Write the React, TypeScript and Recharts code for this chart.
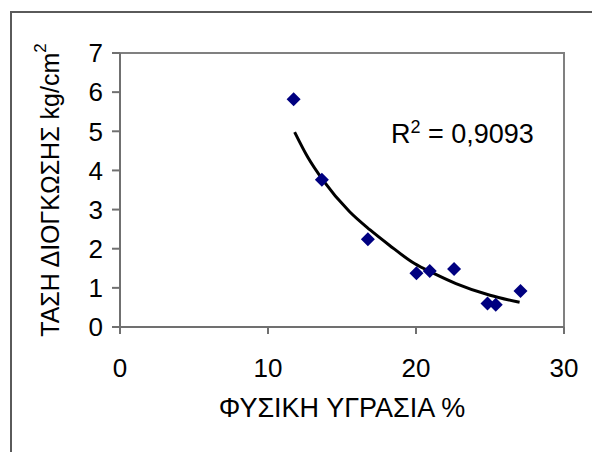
import React from "react";
import {
  ComposedChart,
  Scatter,
  Line,
  XAxis,
  YAxis,
  ReferenceArea,
} from "recharts";

// physical moisture % vs swelling stress kg/cm2
const moisture = [11.73, 13.64, 16.75, 20.03, 20.93, 22.57, 24.83, 25.39, 27.06];
const stress = [5.82, 3.76, 2.24, 1.37, 1.43, 1.48, 0.6, 0.57, 0.92];

// trendline
const trendX = [11.8, 12.7, 13.7, 15.5, 16.9, 18.2, 19.9, 21.2, 22.7, 25.0, 27.0];
const trendY = [4.98, 4.33, 3.76, 2.95, 2.48, 2.09, 1.62, 1.37, 1.11, 0.81, 0.63];

const xTicks = [0, 10, 20, 30];
const yTicks = [0, 1, 2, 3, 4, 5, 6, 7];

const points = moisture.map((x, i) => ({ x, y: stress[i] }));
const trend = trendX.map((x, i) => ({ x, y: trendY[i] }));

const FONT = "'Liberation Sans', Arial, sans-serif";
const AXIS = "#707070";

const Diamond = (props: any) => {
  const { cx, cy } = props;
  const r = 7;
  return (
    <polygon
      points={`${cx},${cy - r} ${cx + r},${cy} ${cx},${cy + r} ${cx - r},${cy}`}
      fill="#000080"
    />
  );
};

export default function App() {
  return (
    <div
      style={{
        position: "absolute",
        left: 0,
        top: 0,
        width: 592,
        height: 452,
        background: "#fff",
        overflow: "hidden",
        fontFamily: FONT,
      }}
    >
      <div
        style={{
          position: "absolute",
          left: 10,
          top: 11,
          width: 700,
          height: 600,
          borderLeft: "2px solid #5a5a5a",
          borderTop: "2px solid #5a5a5a",
        }}
      />
      <ComposedChart
        width={592}
        height={452}
        margin={{ top: 53, right: 28, left: 0, bottom: 0 }}
        style={{ position: "absolute", left: 0, top: 0 }}
      >
        <XAxis
          dataKey="x"
          type="number"
          domain={[0, 30]}
          ticks={xTicks}
          height={125}
          stroke={AXIS}
          strokeWidth={2}
          tickSize={7}
          tickMargin={25}
          tick={{ fill: "#000", fontSize: 26, fontFamily: FONT }}
          label={{
            content: () => (
              <text
                x={342}
                y={408}
                textAnchor="middle"
                dominantBaseline="central"
                fontSize={27}
                fontFamily={FONT}
                fill="#000"
              >
                ΦΥΣΙΚΗ ΥΓΡΑΣΙΑ %
              </text>
            ),
          }}
        />
        <YAxis
          dataKey="y"
          type="number"
          domain={[0, 7]}
          ticks={yTicks}
          width={120}
          stroke={AXIS}
          strokeWidth={2}
          tickSize={8}
          tickMargin={9}
          tick={{ fill: "#000", fontSize: 26, fontFamily: FONT }}
          label={{
            content: () => (
              <text
                x={50}
                y={190}
                transform="rotate(-90 50 190)"
                textAnchor="middle"
                dominantBaseline="central"
                fontSize={25}
                fontFamily={FONT}
                fill="#000"
              >
                ΤΑΣΗ ΔΙΟΓΚΩΣΗΣ kg/cm
                <tspan fontSize={17} dy={-10}>
                  2
                </tspan>
              </text>
            ),
          }}
        />
        <ReferenceArea
          x1={0}
          x2={30}
          y1={0}
          y2={7}
          fill="none"
          stroke="#808080"
          strokeWidth={2}
          ifOverflow="visible"
        />
        <Scatter
          data={points}
          shape={Diamond}
          isAnimationActive={false}
        />
        <Line
          data={trend}
          dataKey="y"
          type="monotone"
          stroke="#000"
          strokeWidth={3}
          dot={false}
          activeDot={false}
          isAnimationActive={false}
        />
      </ComposedChart>
      <div
        style={{
          position: "absolute",
          left: 391,
          top: 119,
          fontSize: 27,
          color: "#000",
          whiteSpace: "nowrap",
          lineHeight: "30px",
        }}
      >
        R<sup style={{ fontSize: 18, verticalAlign: "10px", lineHeight: 0 }}>2</sup> = 0,9093
      </div>
    </div>
  );
}
